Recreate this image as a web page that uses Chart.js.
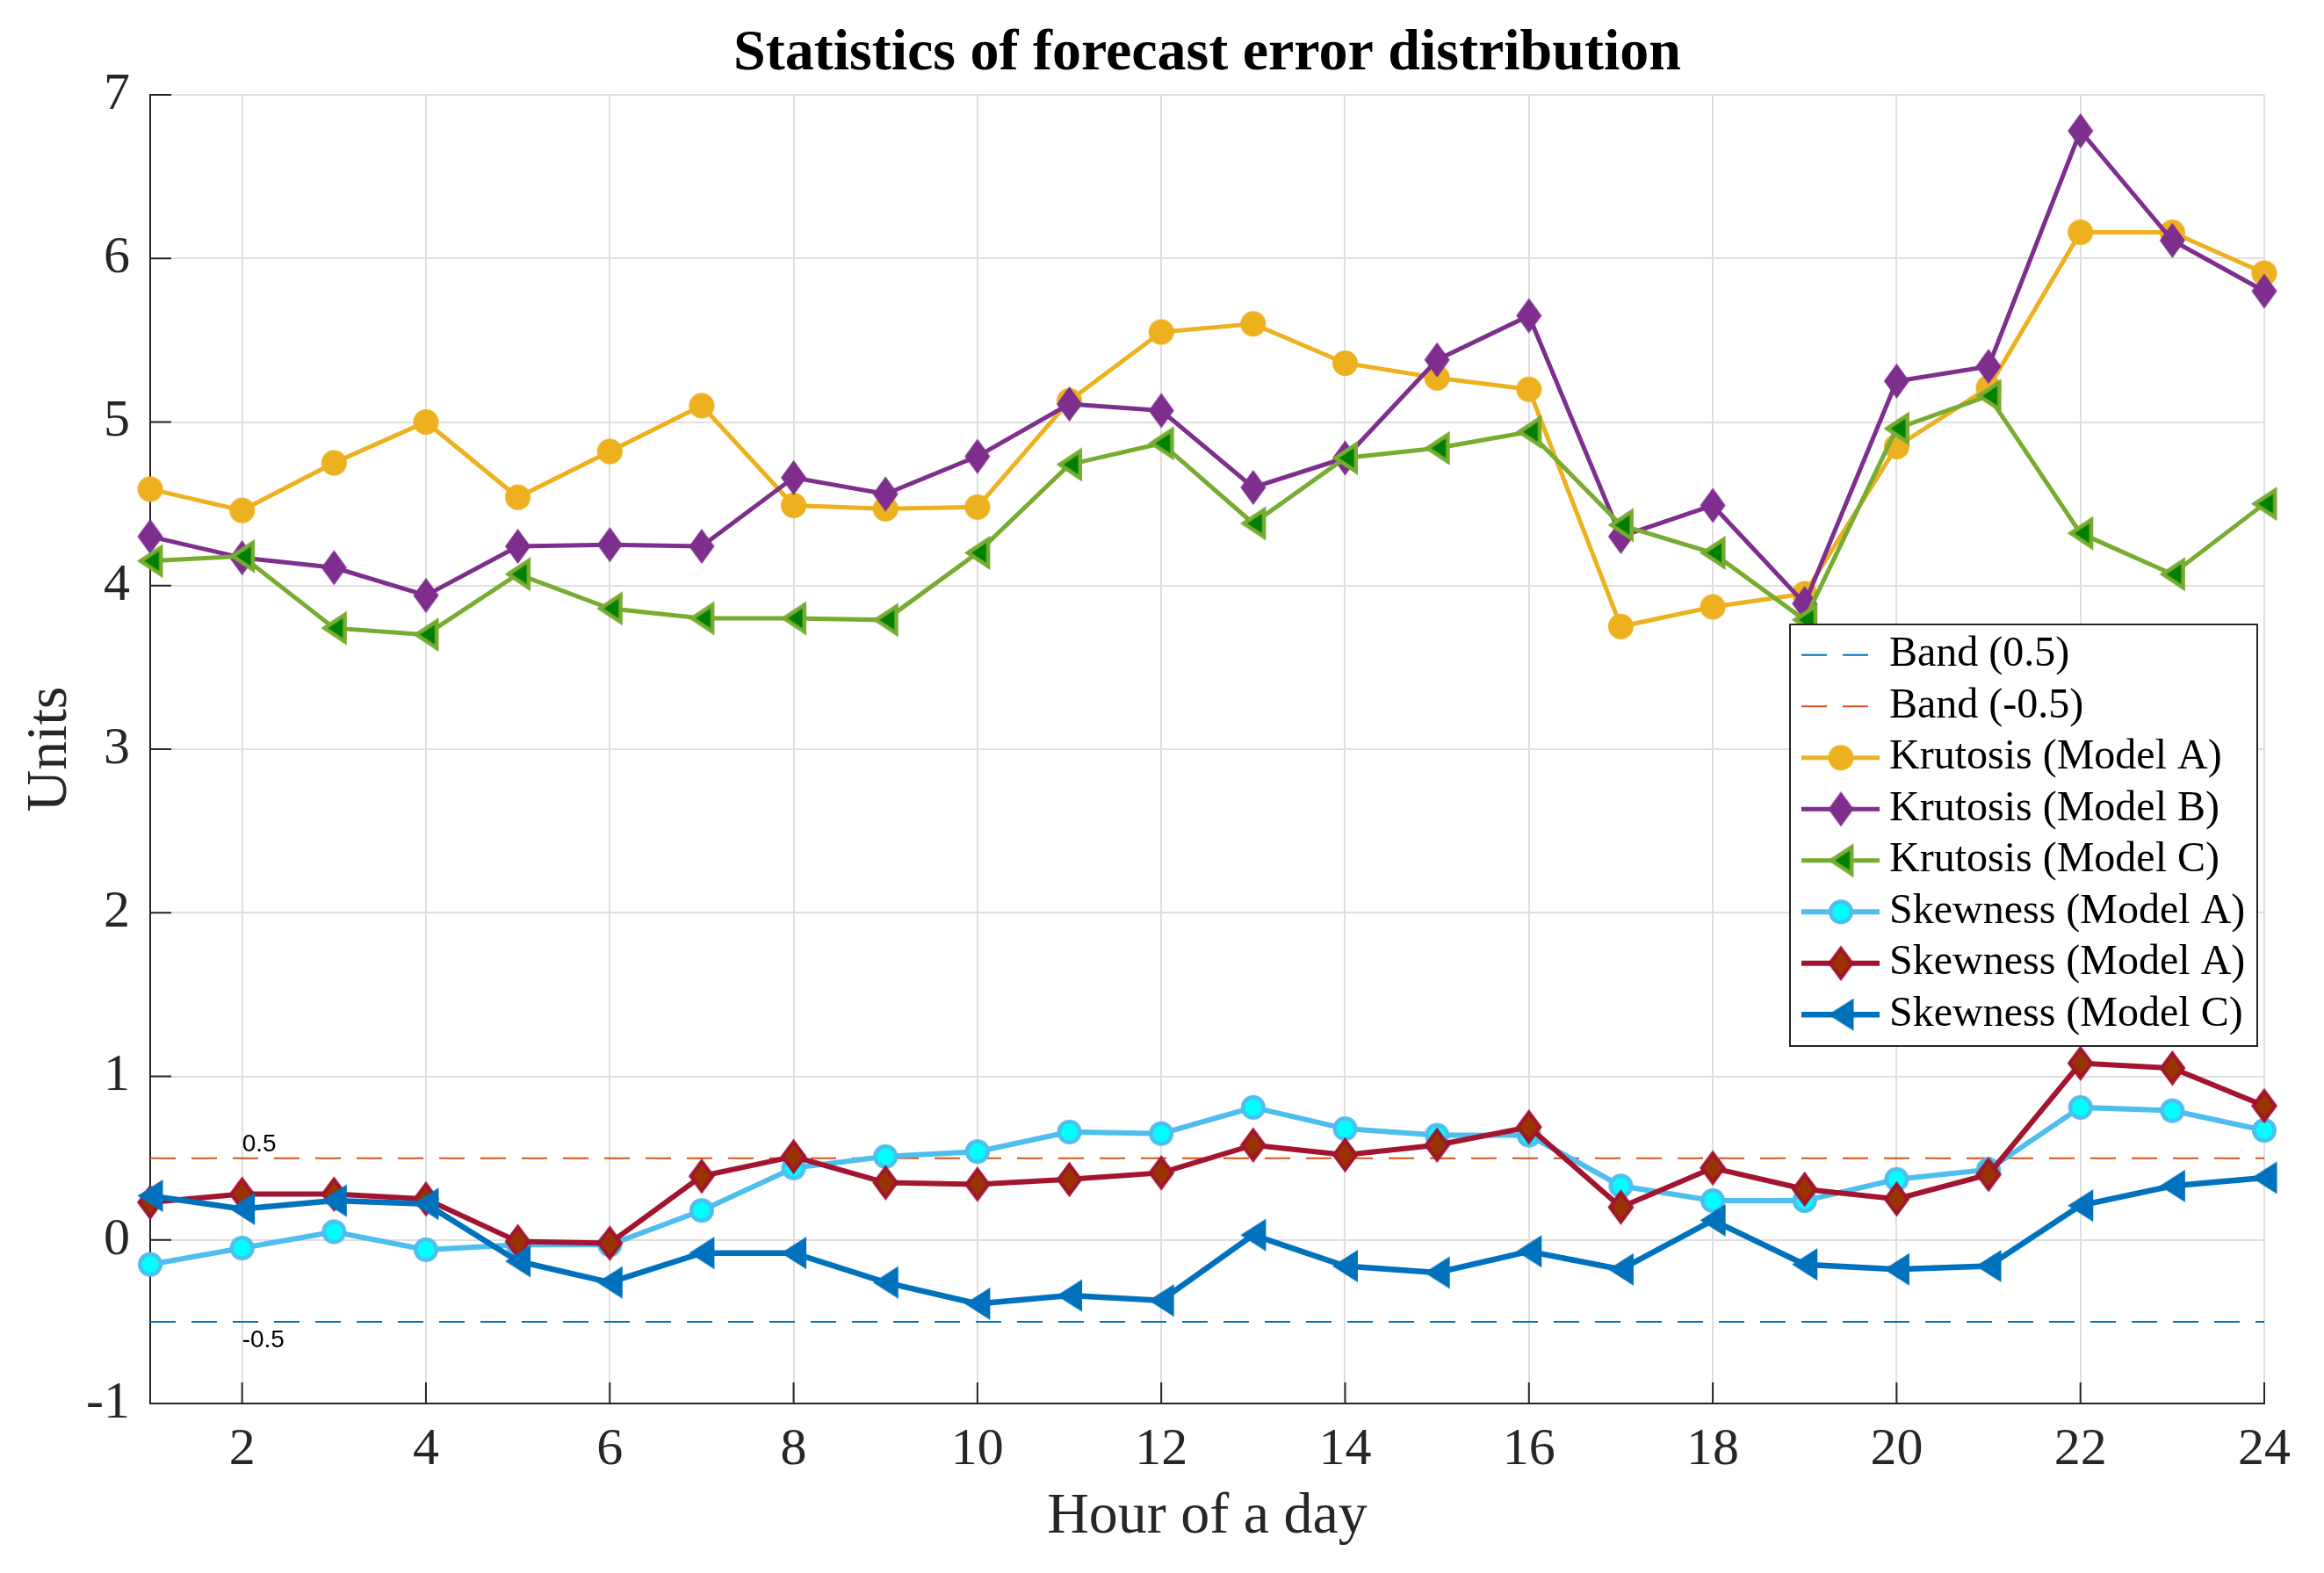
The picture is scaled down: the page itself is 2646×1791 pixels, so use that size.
<!DOCTYPE html>
<html>
<head>
<meta charset="utf-8">
<script src="https://cdn.jsdelivr.net/npm/chart.js@4.4.1/dist/chart.umd.min.js"></script>
<style>
  html, body { margin: 0; padding: 0; background: #ffffff; }
  #wrap { width: 2646px; height: 1791px; }
</style>
</head>
<body>
<div id="wrap"><canvas id="chart"></canvas></div>
<script>
// ---- data ----
const hours = [1, 2, 3, 4, 5, 6, 7, 8, 9, 10, 11, 12, 13, 14, 15, 16, 17, 18, 19, 20, 21, 22, 23, 24];
const xTicks = [2, 4, 6, 8, 10, 12, 14, 16, 18, 20, 22, 24];
const yTicks = [-1, 0, 1, 2, 3, 4, 5, 6, 7];

const kurtosisA = [4.59, 4.46, 4.75, 5.00, 4.54, 4.82, 5.10, 4.49, 4.47, 4.48, 5.13, 5.55,
                   5.60, 5.36, 5.27, 5.20, 3.75, 3.87, 3.95, 4.85, 5.21, 6.16, 6.16, 5.91];
const kurtosisB = [4.30, 4.17, 4.11, 3.94, 4.24, 4.25, 4.24, 4.66, 4.56, 4.79, 5.11, 5.07,
                   4.60, 4.78, 5.38, 5.65, 4.30, 4.49, 3.89, 5.25, 5.34, 6.78, 6.11, 5.80];
const kurtosisC = [4.15, 4.18, 3.74, 3.70, 4.07, 3.86, 3.80, 3.80, 3.79, 4.20, 4.74, 4.87,
                   4.38, 4.78, 4.84, 4.94, 4.37, 4.20, 3.79, 4.96, 5.16, 4.32, 4.07, 4.50];
const skewnessA = [-0.15, -0.05, 0.05, -0.06, -0.03, -0.03, 0.18, 0.44, 0.51, 0.54, 0.66, 0.65,
                   0.81, 0.68, 0.64, 0.64, 0.33, 0.24, 0.24, 0.37, 0.43, 0.81, 0.79, 0.67];
const skewnessA2 = [0.23, 0.28, 0.28, 0.25, -0.01, -0.02, 0.39, 0.51, 0.35, 0.34, 0.37, 0.41,
                    0.58, 0.52, 0.58, 0.69, 0.20, 0.44, 0.31, 0.25, 0.40, 1.08, 1.05, 0.82];
const skewnessC = [0.27, 0.19, 0.24, 0.22, -0.13, -0.26, -0.08, -0.08, -0.26, -0.39, -0.34, -0.37,
                   0.03, -0.16, -0.20, -0.07, -0.18, 0.12, -0.15, -0.18, -0.16, 0.21, 0.33, 0.38];

// horizontal bands (end points)
const bandX = [1, 24];
const bandBlueY = [-0.5, -0.5];
const bandOrangeY = [0.5, 0.5];

// small text notes inside the axes
const noteText = ['0.5', '-0.5'];
const noteX = [2, 2];
const noteY = [0.5, -0.5];

const chartTitle = 'Statistics of forecast error distribution';

const serif = '"Liberation Serif", "Times New Roman", serif';
const sans = '"Liberation Sans", Arial, sans-serif';
const axisColor = '#262626';

function toPoints(xs, ys) {
    return xs.map((x, i) => ({x: x, y: ys[i]}));
}

// matlab-like markers drawn on small canvases
function makeMarker(shape, w, h, fill, edge, lw) {
    const pad = 6;
    const c = document.createElement('canvas');
    c.width = w + pad * 2;
    c.height = h + pad * 2;
    const g = c.getContext('2d');
    const i = lw / 2;
    g.translate(pad, pad);
    g.beginPath();
    if (shape === 'circle') {
        g.ellipse(w / 2, h / 2, w / 2 - i, h / 2 - i, 0, 0, Math.PI * 2);
    } else if (shape === 'diamond') {
        g.moveTo(w / 2, i * 1.6);
        g.lineTo(w - i, h / 2);
        g.lineTo(w / 2, h - i * 1.6);
        g.lineTo(i, h / 2);
        g.closePath();
    } else {
        // triangle pointing left
        g.moveTo(i * 1.6, h / 2);
        g.lineTo(w - i, i * 1.4);
        g.lineTo(w - i, h - i * 1.4);
        g.closePath();
    }
    g.fillStyle = fill;
    g.fill();
    if (lw > 0) {
        g.lineWidth = lw;
        g.strokeStyle = edge;
        g.stroke();
    }
    return c;
}

function lineSet(label, xs, ys, color, width, marker) {
    return {
        label: label,
        data: toPoints(xs, ys),
        borderColor: color,
        backgroundColor: color,
        borderWidth: width,
        pointStyle: marker,
        pointRadius: 14,
        pointHoverRadius: 14,
        tension: 0,
        clip: false
    };
}

function bandSet(label, ys, color) {
    return {
        label: label,
        data: toPoints(bandX, ys),
        borderColor: color,
        backgroundColor: color,
        borderWidth: 2,
        borderDash: [29, 18],
        pointRadius: 0,
        pointHoverRadius: 0,
        tension: 0,
        clip: false
    };
}

const datasets = [
    bandSet('Band (0.5)', bandBlueY, '#0072BD'),
    bandSet('Band (-0.5)', bandOrangeY, '#D95319'),
    lineSet('Krutosis (Model A)', hours, kurtosisA, '#EDB120', 5, makeMarker('circle', 29, 29, '#EDB120', '#EDB120', 0)),
    lineSet('Krutosis (Model B)', hours, kurtosisB, '#7E2F8E', 5, makeMarker('diamond', 29, 40, '#7E2F8E', '#7E2F8E', 0)),
    lineSet('Krutosis (Model C)', hours, kurtosisC, '#77AC30', 5, makeMarker('tri', 29, 37, '#008000', '#77AC30', 4.5)),
    lineSet('Skewness (Model A)', hours, skewnessA, '#4DBEEE', 6, makeMarker('circle', 28, 28, '#00FFFF', '#4DBEEE', 4.5)),
    lineSet('Skewness (Model A)', hours, skewnessA2, '#A2142F', 6, makeMarker('diamond', 29, 40, '#993300', '#A2142F', 4)),
    lineSet('Skewness (Model C)', hours, skewnessC, '#0072BD', 6.5, makeMarker('tri', 29, 37, '#0072BD', '#0072BD', 0))
];
// later series sit on top, as in the original
datasets.forEach((d, i) => { d.order = datasets.length - i; });

// title centred over the axes, not the whole canvas
const axesTitle = {
    id: 'axesTitle',
    afterDraw(chart) {
        const {ctx, chartArea} = chart;
        ctx.save();
        ctx.font = 'bold 66px ' + serif;
        ctx.fillStyle = '#000000';
        ctx.textAlign = 'center';
        ctx.textBaseline = 'alphabetic';
        ctx.fillText(chartTitle, (chartArea.left + chartArea.right) / 2, 79);
        ctx.restore();
    }
};

// ticks pointing into the plot
const inwardTicks = {
    id: 'inwardTicks',
    beforeDatasetsDraw(chart) {
        const {ctx, chartArea, scales} = chart;
        const len = 24;
        ctx.save();
        ctx.strokeStyle = axisColor;
        ctx.lineWidth = 2;
        ctx.beginPath();
        yTicks.forEach(v => {
            const y = scales.y.getPixelForValue(v);
            ctx.moveTo(chartArea.left, y);
            ctx.lineTo(chartArea.left + len, y);
        });
        xTicks.forEach(v => {
            const x = scales.x.getPixelForValue(v);
            ctx.moveTo(x, chartArea.bottom);
            ctx.lineTo(x, chartArea.bottom - len);
        });
        ctx.stroke();
        ctx.restore();
    }
};

// "0.5" / "-0.5" notes
const bandNotes = {
    id: 'bandNotes',
    afterDatasetsDraw(chart) {
        const {ctx, scales} = chart;
        ctx.save();
        ctx.font = '28px ' + sans;
        ctx.fillStyle = '#000000';
        ctx.textAlign = 'left';
        ctx.textBaseline = 'alphabetic';
        noteText.forEach((t, i) => {
            const x = scales.x.getPixelForValue(noteX[i]);
            const y = scales.y.getPixelForValue(noteY[i]);
            ctx.fillText(t, x, noteY[i] > 0 ? y - 8 : y + 29);
        });
        ctx.restore();
    }
};

// matlab style legend box: line sample + marker + text
const boxLegend = {
    id: 'boxLegend',
    afterDraw(chart) {
        const {ctx} = chart;
        const left = 2038, top = 711, right = 2570, bottom = 1191;
        const firstRow = 745.7, rowStep = 58.5;
        ctx.save();
        ctx.fillStyle = '#ffffff';
        ctx.fillRect(left, top, right - left, bottom - top);
        ctx.strokeStyle = axisColor;
        ctx.lineWidth = 2;
        ctx.strokeRect(left, top, right - left, bottom - top);

        chart.data.datasets.forEach((ds, i) => {
            const y = firstRow + i * rowStep;
            ctx.save();
            ctx.strokeStyle = ds.borderColor;
            ctx.lineWidth = ds.borderWidth;
            if (ds.borderDash) ctx.setLineDash(ds.borderDash);
            ctx.beginPath();
            ctx.moveTo(2051, y);
            ctx.lineTo(2140, y);
            ctx.stroke();
            ctx.restore();
            if (ds.pointStyle && typeof ds.pointStyle === 'object') {
                const m = ds.pointStyle;
                ctx.drawImage(m, 2096 - m.width / 2, y - m.height / 2);
            }
            ctx.fillStyle = '#000000';
            ctx.font = '48px ' + serif;
            ctx.textAlign = 'left';
            ctx.textBaseline = 'middle';
            ctx.fillText(ds.label, 2151, y);
        });
        ctx.restore();
    }
};

new Chart(document.getElementById('chart'), {
    type: 'line',
    data: { datasets: datasets },
    options: {
        responsive: true,
        maintainAspectRatio: false,
        animation: false,
        layout: {
            padding: { left: 0, right: 68, top: 108, bottom: 0 }
        },
        scales: {
            x: {
                type: 'linear',
                min: 1,
                max: 24,
                afterBuildTicks: axis => {
                    axis.ticks = xTicks.map(v => ({value: v}));
                },
                afterFit: scale => { scale.height = 193; },
                grid: { color: '#DFDFDF', lineWidth: 2, drawTicks: false },
                border: { color: axisColor, width: 2 },
                ticks: {
                    autoSkip: false,
                    maxRotation: 0,
                    padding: 17,
                    color: axisColor,
                    font: { family: serif, size: 60 }
                },
                title: {
                    display: true,
                    text: 'Hour of a day',
                    color: axisColor,
                    padding: { top: 0, bottom: 24 },
                    font: { family: serif, size: 66 }
                }
            },
            y: {
                type: 'linear',
                min: -1,
                max: 7,
                afterBuildTicks: axis => {
                    axis.ticks = yTicks.map(v => ({value: v}));
                },
                afterFit: scale => { scale.width = 171; },
                grid: { color: '#DFDFDF', lineWidth: 2, drawTicks: false },
                border: { color: axisColor, width: 2 },
                ticks: {
                    padding: 23,
                    color: axisColor,
                    font: { family: serif, size: 60 }
                },
                title: {
                    display: true,
                    text: 'Units',
                    color: axisColor,
                    padding: { top: 18, bottom: 0 },
                    font: { family: serif, size: 66 }
                }
            }
        },
        plugins: {
            legend: { display: false },
            tooltip: { enabled: false },
            title: { display: false }
        }
    },
    plugins: [axesTitle, inwardTicks, bandNotes, boxLegend]
});
</script>
</body>
</html>
